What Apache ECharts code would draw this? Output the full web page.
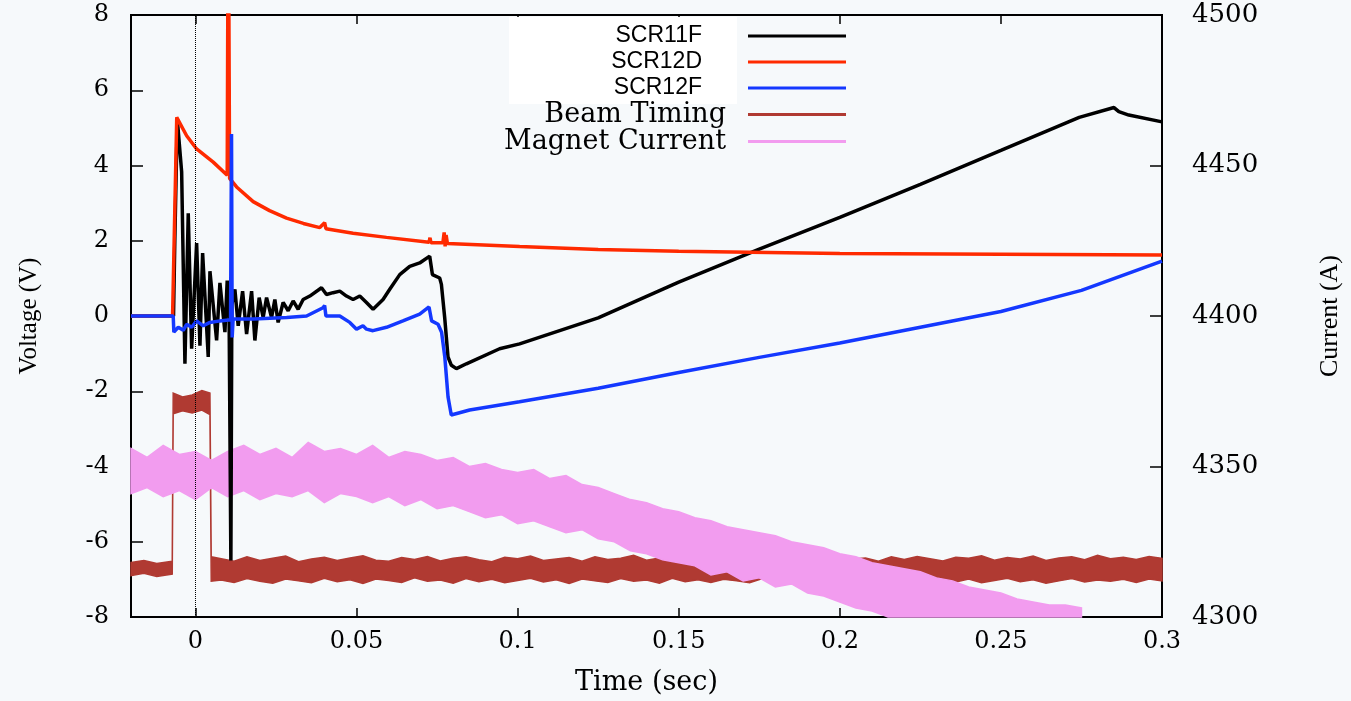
<!DOCTYPE html>
<html>
<head>
<meta charset="utf-8">
<title>SCR voltages and magnet current</title>
<script src="https://cdn.jsdelivr.net/npm/echarts@6.0.0/dist/echarts.min.js"></script>
<style>
  html, body { margin: 0; padding: 0; background: #f6f9fb; }
  #chart { width: 1351px; height: 701px; }
</style>
</head>
<body>
<div id="chart"></div>
<script>
// ticks on the time axis
const xTicks = [0, 0.05, 0.1, 0.15, 0.2, 0.25, 0.3];

// SCR11F (black)
const scr11fTime = [-0.020, -0.0068, -0.0064, -0.00564, -0.00428, -0.00326, -0.00223, -0.00118, 0.00037, 0.0014,
  0.00223, 0.00397, 0.0045, 0.00657, 0.0076, 0.00915, 0.00986, 0.0104, 0.0110, 0.0113,
  0.01225, 0.01327, 0.01464, 0.01588, 0.01743, 0.01845, 0.01978, 0.02102, 0.02208, 0.02363,
  0.02465, 0.02567, 0.02722, 0.02878, 0.03033, 0.03188, 0.03343, 0.0355, 0.03913, 0.04068,
  0.04273, 0.04481, 0.04688, 0.04893, 0.05101, 0.05308, 0.05513, 0.05823, 0.06031, 0.06341,
  0.06651, 0.06961, 0.07271, 0.07355, 0.07581, 0.07634, 0.07736, 0.07839, 0.07944, 0.08099,
  0.08409, 0.0944, 0.10062, 0.125, 0.15, 0.175, 0.2, 0.225, 0.25, 0.2743,
  0.2851, 0.2866, 0.2897, 0.30];
const scr11fVolt = [0, 0, 2.0, 5.23, 3.83, -1.27, 2.73, -0.87, 1.94, -0.79,
  1.67, -1.09, 1.19, -0.65, 0.88, -0.43, 0.94, 0.6, -6.5, 0.3,
  0.71, -0.26, 0.66, -0.48, 0.66, -0.65, 0.49, -0.04, 0.49, -0.04,
  0.44, -0.17, 0.36, 0.14, 0.40, 0.18, 0.44, 0.53, 0.75, 0.57,
  0.62, 0.66, 0.53, 0.44, 0.53, 0.36, 0.18, 0.44, 0.71, 1.10,
  1.32, 1.41, 1.59, 1.10, 1.01, 0.84, -0.04, -1.09, -1.31, -1.40,
  -1.27, -0.87, -0.74, -0.05, 0.9, 1.78, 2.62, 3.5, 4.4, 5.28,
  5.54, 5.43, 5.34, 5.16];

// SCR12D (red)
const scr12dTime = [-0.020, -0.0071, -0.0058, -0.00273, 0.00037, 0.00552, 0.00986, 0.0100, 0.0102, 0.0104,
  0.0106, 0.01278, 0.01792, 0.0230, 0.02828, 0.0335, 0.0386, 0.0401, 0.0405, 0.04893,
  0.05929, 0.0725, 0.0728, 0.0731, 0.0768, 0.0772, 0.0775, 0.0778, 0.0782, 0.10062,
  0.125, 0.15, 0.2, 0.25, 0.30];
const scr12dVolt = [0, 0, 5.28, 4.79, 4.44, 4.09, 3.74, 3.72, 12, 12,
  3.66, 3.43, 3.04, 2.80, 2.60, 2.46, 2.35, 2.48, 2.32, 2.20,
  2.09, 1.96, 2.08, 1.95, 1.95, 2.22, 1.85, 2.15, 1.93, 1.85,
  1.77, 1.72, 1.66, 1.64, 1.62];

// SCR12F (blue)
const scr12fTime = [-0.020, -0.0069, -0.0067, -0.00533, -0.00378, -0.00273, -0.00118, 0.00037, 0.00242, 0.0045,
  0.0076, 0.0109, 0.0112, 0.0114, 0.0117, 0.018, 0.0283, 0.0345, 0.0396, 0.0401,
  0.0405, 0.0448, 0.0479, 0.0500, 0.0520, 0.0531, 0.0551, 0.0593, 0.0644, 0.0696,
  0.0725, 0.0733, 0.0753, 0.0764, 0.0774, 0.0784, 0.0794, 0.0851, 0.1006, 0.125,
  0.15, 0.175, 0.2, 0.225, 0.25, 0.275, 0.30];
const scr12fVolt = [0, 0, -0.43, -0.30, -0.38, -0.22, -0.30, -0.13, -0.26, -0.17,
  -0.13, -0.10, 4.84, -0.57, -0.08, -0.08, -0.04, 0.0, 0.22, 0.28,
  0.0, 0.0, -0.17, -0.35, -0.26, -0.35, -0.39, -0.30, -0.13, 0.05,
  0.24, -0.13, -0.22, -0.43, -1.09, -2.15, -2.63, -2.50, -2.28, -1.92,
  -1.50, -1.10, -0.72, -0.30, 0.12, 0.68, 1.46];

// Beam Timing: noisy band, upper / lower edge (V)
const btTime = [-0.020, -0.016, -0.012, -0.0072, -0.0069, -0.004, -0.001, 0.002, 0.0045, 0.0049,
  0.008, 0.012, 0.016, 0.020, 0.024, 0.028, 0.032, 0.036, 0.040, 0.044,
  0.048, 0.052, 0.056, 0.060, 0.064, 0.068, 0.072, 0.076, 0.080, 0.084,
  0.088, 0.092, 0.096, 0.100, 0.104, 0.108, 0.112, 0.116, 0.120, 0.124,
  0.128, 0.132, 0.136, 0.140, 0.144, 0.148, 0.152, 0.156, 0.160, 0.164,
  0.168, 0.172, 0.176, 0.180, 0.184, 0.188, 0.192, 0.196, 0.200, 0.204,
  0.208, 0.212, 0.216, 0.220, 0.224, 0.228, 0.232, 0.236, 0.240, 0.244,
  0.248, 0.252, 0.256, 0.260, 0.264, 0.268, 0.272, 0.276, 0.280, 0.284,
  0.288, 0.292, 0.296, 0.300];
const btHigh = [-6.55, -6.50, -6.58, -6.52, -2.05, -2.15, -2.10, -1.98, -2.05, -6.40,
  -6.45, -6.52, -6.40, -6.50, -6.44, -6.38, -6.53, -6.46, -6.41, -6.50,
  -6.43, -6.37, -6.49, -6.52, -6.42, -6.47, -6.39, -6.51, -6.44, -6.40,
  -6.48, -6.53, -6.41, -6.45, -6.38, -6.50, -6.46, -6.42, -6.52, -6.40,
  -6.47, -6.44, -6.36, -6.49, -6.43, -6.51, -6.40, -6.46, -6.39, -6.50,
  -6.45, -6.41, -6.53, -6.44, -6.38, -6.48, -6.42, -6.50, -6.37, -6.46,
  -6.43, -6.52, -6.40, -6.47, -6.39, -6.45, -6.51, -6.41, -6.44, -6.37,
  -6.49, -6.42, -6.46, -6.38, -6.50, -6.43, -6.40, -6.48, -6.36, -6.45,
  -6.41, -6.47, -6.39, -6.44];
const btLow = [-6.90, -6.84, -6.92, -6.86, -2.60, -2.52, -2.58, -2.50, -2.62, -7.05,
  -7.02, -7.08, -6.98, -7.05, -7.10, -6.99, -7.04, -7.09, -6.97, -7.06,
  -7.01, -7.11, -6.99, -7.03, -7.08, -6.96, -7.05, -7.02, -7.10, -6.98,
  -7.06, -7.00, -7.09, -7.03, -6.97, -7.07, -7.01, -7.11, -6.99, -7.04,
  -7.08, -6.98, -7.05, -7.02, -7.10, -6.97, -7.06, -7.01, -7.08, -7.00,
  -7.04, -7.09, -6.98, -7.05, -7.02, -7.11, -6.99, -7.06, -7.03, -6.97,
  -7.08, -7.01, -7.04, -7.10, -6.98, -7.05, -7.02, -7.07, -6.99, -7.09,
  -7.03, -6.97, -7.06, -7.01, -7.10, -7.04, -6.98, -7.07, -7.02, -7.05,
  -7.00, -7.08, -6.99, -7.04];

// Magnet Current: noisy band, upper / lower edge (A)
const mcTime = [-0.020, -0.015, -0.010, -0.005, 0.000, 0.005, 0.010, 0.015, 0.020, 0.025,
  0.030, 0.035, 0.040, 0.045, 0.050, 0.055, 0.060, 0.065, 0.070, 0.075,
  0.080, 0.085, 0.090, 0.095, 0.100, 0.105, 0.110, 0.115, 0.120, 0.125,
  0.130, 0.135, 0.140, 0.145, 0.150, 0.155, 0.160, 0.165, 0.170, 0.175,
  0.180, 0.185, 0.190, 0.195, 0.200, 0.205, 0.210, 0.215, 0.220, 0.225,
  0.230, 0.235, 0.240, 0.245, 0.250, 0.255, 0.260, 0.265, 0.270, 0.275];
const mcHigh = [4356, 4353, 4357, 4354, 4355, 4352, 4355, 4357, 4354, 4356,
  4353, 4358, 4355, 4356, 4354, 4357, 4353, 4355, 4354, 4352,
  4353, 4350, 4351, 4349, 4348, 4349, 4346, 4347, 4344, 4343,
  4341, 4339, 4338, 4336, 4335, 4333, 4332, 4330, 4329, 4328,
  4327, 4325, 4324, 4323, 4321, 4320, 4318, 4317, 4316, 4315,
  4313, 4312, 4310, 4309, 4308, 4306, 4305, 4304, 4304, 4303];
const mcLow = [4341, 4343, 4340, 4342, 4339, 4343, 4340, 4342, 4339, 4341,
  4340, 4342, 4338, 4341, 4340, 4338, 4340, 4337, 4339, 4336,
  4337, 4335, 4333, 4334, 4331, 4332, 4330, 4328, 4329, 4326,
  4325, 4322, 4321, 4319, 4318, 4317, 4314, 4315, 4312, 4313,
  4310, 4311, 4308, 4307, 4305, 4303, 4302, 4300, 4300, 4300,
  4300, 4300, 4300, 4300, 4300, 4300, 4300, 4300, 4300, 4300];

const pairs = (t, v) => t.map((x, i) => [x, v[i]]);

// draw a filled band between upper and lower edges
function bandRenderer(time, low, high) {
  return function (params, api) {
    if (params.dataIndex !== 0) return null;
    const pts = [];
    for (let i = 0; i < time.length; i++) pts.push(api.coord([time[i], high[i]]));
    for (let i = time.length - 1; i >= 0; i--) pts.push(api.coord([time[i], low[i]]));
    const c = api.visual('color');
    return { type: 'polygon', shape: { points: pts }, style: { fill: c, stroke: c, lineWidth: 1.5 } };
  };
}

const colors = { black: '#000000', red: '#ff2a00', blue: '#1438ff', brown: '#b03a32', violet: '#f29cef' };

const chart = echarts.init(document.getElementById('chart'));

const sansText = { fontFamily: 'Liberation Sans', fontSize: 23, lineHeight: 26, padding: [0, 41, 0, 0] };
const serifText = { fontFamily: 'DejaVu Serif', fontSize: 27, lineHeight: 26, padding: [0, 17, 0, 0] };
const tickLine = { color: '#000', width: 1.5 };

const option = {
  animation: false,
  backgroundColor: '#f6f9fb',
  grid: {
    left: 131, right: 188, top: 15, bottom: 79,
    show: true, borderColor: '#000', borderWidth: 2, backgroundColor: 'transparent'
  },
  xAxis: [
    {
      type: 'value', min: -0.02, max: 0.3, position: 'bottom',
      name: 'Time (sec)', nameLocation: 'middle', nameGap: 52,
      nameTextStyle: { fontFamily: 'DejaVu Serif', fontSize: 27, color: '#000' },
      axisLine: { show: false, onZero: false }, splitLine: { show: false },
      axisTick: { inside: true, length: 9, customValues: xTicks, lineStyle: tickLine },
      axisLabel: { customValues: xTicks, margin: 13, fontFamily: 'DejaVu Serif', fontSize: 24, color: '#000',
        formatter: v => String(v) }
    },
    {
      type: 'value', min: -0.02, max: 0.3, position: 'top',
      axisLine: { show: false, onZero: false }, splitLine: { show: false },
      axisTick: { inside: true, length: 9, customValues: xTicks, lineStyle: tickLine },
      axisLabel: { show: false }
    }
  ],
  yAxis: [
    {
      type: 'value', min: -8, max: 8, interval: 2, position: 'left',
      name: 'Voltage (V)', nameLocation: 'middle', nameRotate: 90, nameGap: 89,
      nameTextStyle: { fontFamily: 'Liberation Serif', fontSize: 25, color: '#000' },
      axisLine: { show: false, onZero: false }, splitLine: { show: false },
      axisTick: { inside: true, length: 12, lineStyle: tickLine },
      axisLabel: { margin: 22, fontFamily: 'DejaVu Serif', fontSize: 24, color: '#000', formatter: v => String(v) }
    },
    {
      type: 'value', min: 4300, max: 4500, interval: 50, position: 'right',
      name: 'Current (A)', nameLocation: 'middle', nameRotate: 90, nameGap: 155,
      nameTextStyle: { fontFamily: 'Liberation Serif', fontSize: 26, color: '#000' },
      axisLine: { show: false, onZero: false }, splitLine: { show: false },
      axisTick: { inside: true, length: 12, lineStyle: tickLine },
      axisLabel: { margin: 30, fontFamily: 'DejaVu Serif', fontSize: 26, color: '#000', formatter: v => String(v) }
    }
  ],
  legend: {
    orient: 'vertical', align: 'right', right: 505, top: 23, padding: 0, itemGap: 0,
    itemWidth: 98, itemHeight: 3, icon: 'rect', selectedMode: false, z: 10,
    textStyle: { color: '#000' },
    data: [
      { name: 'SCR11F', textStyle: sansText },
      { name: 'SCR12D', textStyle: sansText },
      { name: 'SCR12F', textStyle: sansText },
      { name: 'Beam Timing', textStyle: serifText },
      { name: 'Magnet Current', textStyle: serifText }
    ]
  },
  graphic: [
    { type: 'rect', left: 509, top: 17, z: 5, shape: { width: 228, height: 87 }, style: { fill: '#ffffff' } }
  ],
  series: [
    {
      name: 'SCR11F', type: 'line', data: pairs(scr11fTime, scr11fVolt),
      symbol: 'none', color: colors.black, lineStyle: { width: 3.5, color: colors.black },
      silent: true,
      markLine: {
        silent: true, symbol: ['none', 'none'], label: { show: false },
        lineStyle: { type: 'dotted', color: '#000', width: 1 },
        data: [{ xAxis: 0 }]
      }
    },
    {
      name: 'SCR12D', type: 'line', data: pairs(scr12dTime, scr12dVolt),
      symbol: 'none', color: colors.red, lineStyle: { width: 3.5, color: colors.red }, silent: true
    },
    {
      name: 'SCR12F', type: 'line', data: pairs(scr12fTime, scr12fVolt),
      symbol: 'none', color: colors.blue, lineStyle: { width: 3.5, color: colors.blue }, silent: true
    },
    {
      name: 'Beam Timing', type: 'custom', xAxisIndex: 0, yAxisIndex: 0, silent: true,
      itemStyle: { color: colors.brown },
      renderItem: bandRenderer(btTime, btLow, btHigh),
      encode: { x: 0, y: [1, 2] },
      data: btTime.map((t, i) => [t, btLow[i], btHigh[i]])
    },
    {
      name: 'Magnet Current', type: 'custom', xAxisIndex: 0, yAxisIndex: 1, silent: true,
      itemStyle: { color: colors.violet },
      renderItem: bandRenderer(mcTime, mcLow, mcHigh),
      encode: { x: 0, y: [1, 2] },
      data: mcTime.map((t, i) => [t, mcLow[i], mcHigh[i]])
    }
  ]
};

chart.setOption(option);
</script>
</body>
</html>
